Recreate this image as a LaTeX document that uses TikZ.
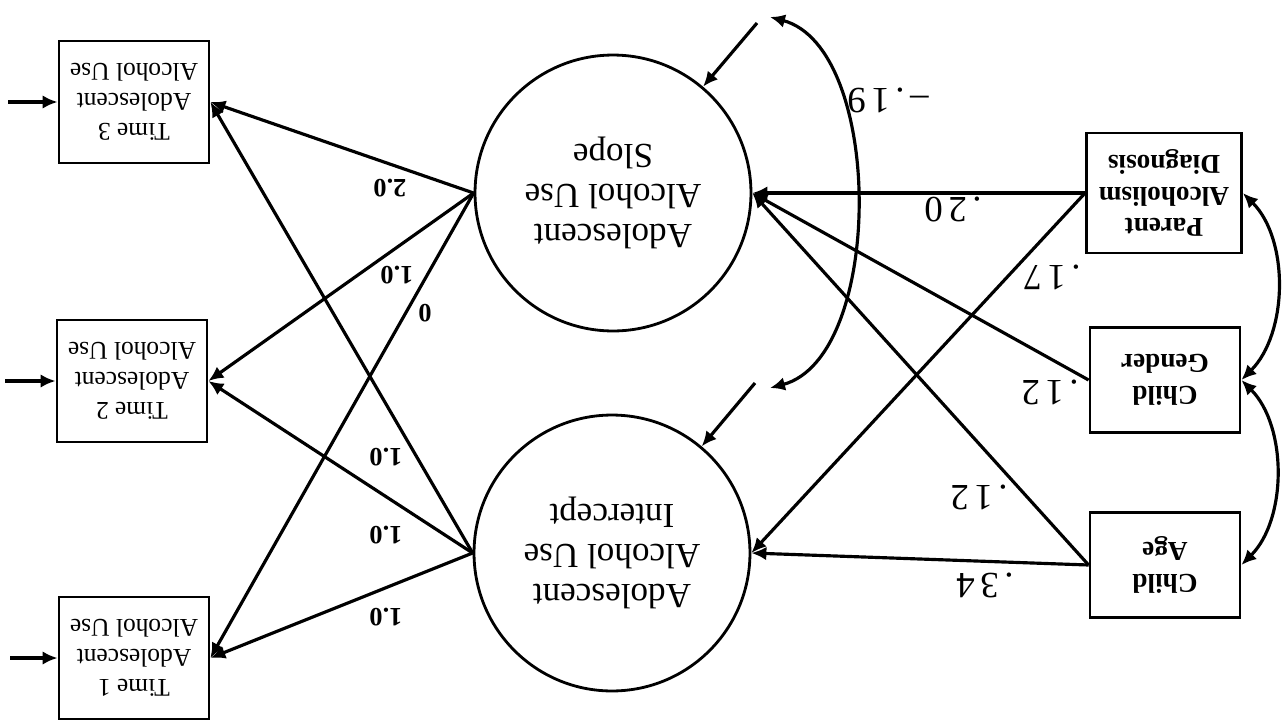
\documentclass[tikz,border=0pt]{standalone}
\usepackage{fontspec}
\setmainfont{Liberation Serif}
\newfontfamily\coeffont[LetterSpace=15]{Liberation Serif}
\usetikzlibrary{arrows.meta, positioning}

\begin{document}
\begin{tikzpicture}[
    x=0.02cm, y=-0.02cm,
    every node/.style={inner sep=2pt, rotate=180},
    latent/.style={draw, circle, line width=1.6pt, minimum size=5.52cm, align=center, font=\fontsize{20}{23}\selectfont},
    obs/.style={draw, rectangle, line width=1.6pt, minimum width=3cm, minimum height=2.44cm, align=center, font=\fontsize{14.5}{17}\selectfont},
    covar/.style={obs, minimum height=2.1cm, font=\fontsize{15.5}{18}\selectfont\bfseries},
    load/.style={font=\fontsize{15}{17}\selectfont\bfseries},
    coef/.style={font=\coeffont\fontsize{21}{24}\selectfont},
    arrow/.style={-{Latex[length=3mm, width=2.7mm]}, line width=1.8pt},
    biarrow/.style={{Latex[length=3mm, width=2.7mm]}-{Latex[length=3mm, width=2.7mm]}, line width=1.8pt}
  ]
  \useasboundingbox (0,0) rectangle (1282,721);

  % Repeated measures
  \node[obs] (t3) at (134, 102) {Time 3\\Adolescent\\Alcohol Use};
  \node[obs] (t2) at (132, 381) {Time 2\\Adolescent\\Alcohol Use};
  \node[obs] (t1) at (134, 658) {Time 1\\Adolescent\\Alcohol Use};

  % Growth factors
  \node[latent] (slope) at (613, 193) {Adolescent\\Alcohol Use\\Slope};
  \node[latent] (icept) at (612, 553) {Adolescent\\Alcohol Use\\Intercept};

  % Covariates
  \node[covar, minimum width=3.1cm, minimum height=2.4cm] (pad) at (1164, 193) {Parent\\Alcoholism\\Diagnosis};
  \node[covar] (gender) at (1165, 380) {Child\\Gender};
  \node[covar] (age) at (1165, 565) {Child\\Age};

  % Free ends of residual arrows
  \coordinate (d3) at (8, 102);
  \coordinate (d2) at (5, 381);
  \coordinate (d1) at (10, 658);
  \coordinate (zs) at (757, 23);
  \coordinate (zi) at (755, 383);
  \coordinate (cs) at (770, 17);
  \coordinate (ci) at (770, 388);

  % Residuals
  \draw[arrow] (d3) -- (t3);
  \draw[arrow] (d2) -- (t2);
  \draw[arrow] (d1) -- (t1);
  \draw[arrow] (zs) -- (slope);
  \draw[arrow] (zi) -- (icept);
  \draw[biarrow] (cs) to[out=-15, in=15, looseness=0.82] (ci);

  % Loadings
  \foreach \t in {t1,t2,t3} {
    \draw[arrow] (icept.east) -- (\t.west);
    \draw[arrow] (slope.east) -- (\t.west);
  }

  % Covariate paths
  \draw[arrow] (pad.east) -- (slope.west);
  \draw[arrow] (pad.east) -- (icept.west);
  \draw[arrow] (gender.east) -- (slope.west);
  \draw[arrow] (age.east) -- (slope.west);
  \draw[arrow] (age.east) -- (icept.west);
  \draw[biarrow] (pad.west) to[out=-45, in=45, looseness=0.9] (gender.west);
  \draw[biarrow] (gender.west) to[out=-45, in=45, looseness=0.9] (age.west);

  % Labels
  \node[load] (w32) at (390, 188) {2.0};
  \node[load] (w22) at (397, 275) {1.0};
  \node[load] (w12) at (425, 313) {0};
  \node[load] (w31) at (386, 457) {1.0};
  \node[load] (w21) at (386, 535) {1.0};
  \node[load] (w11) at (386, 617) {1.0};
  \node[coef] (b20) at (953, 210) {.20};
  \node[coef] (b17) at (1052, 277) {.17};
  \node[coef] (b12g) at (1050, 392) {.12};
  \node[coef] (b12a) at (979, 497) {.12};
  \node[coef] (b34) at (985, 585) {.34};
  \node[coef] (r19) at (888, 100) {\textendash.19};

\end{tikzpicture}
\end{document}
